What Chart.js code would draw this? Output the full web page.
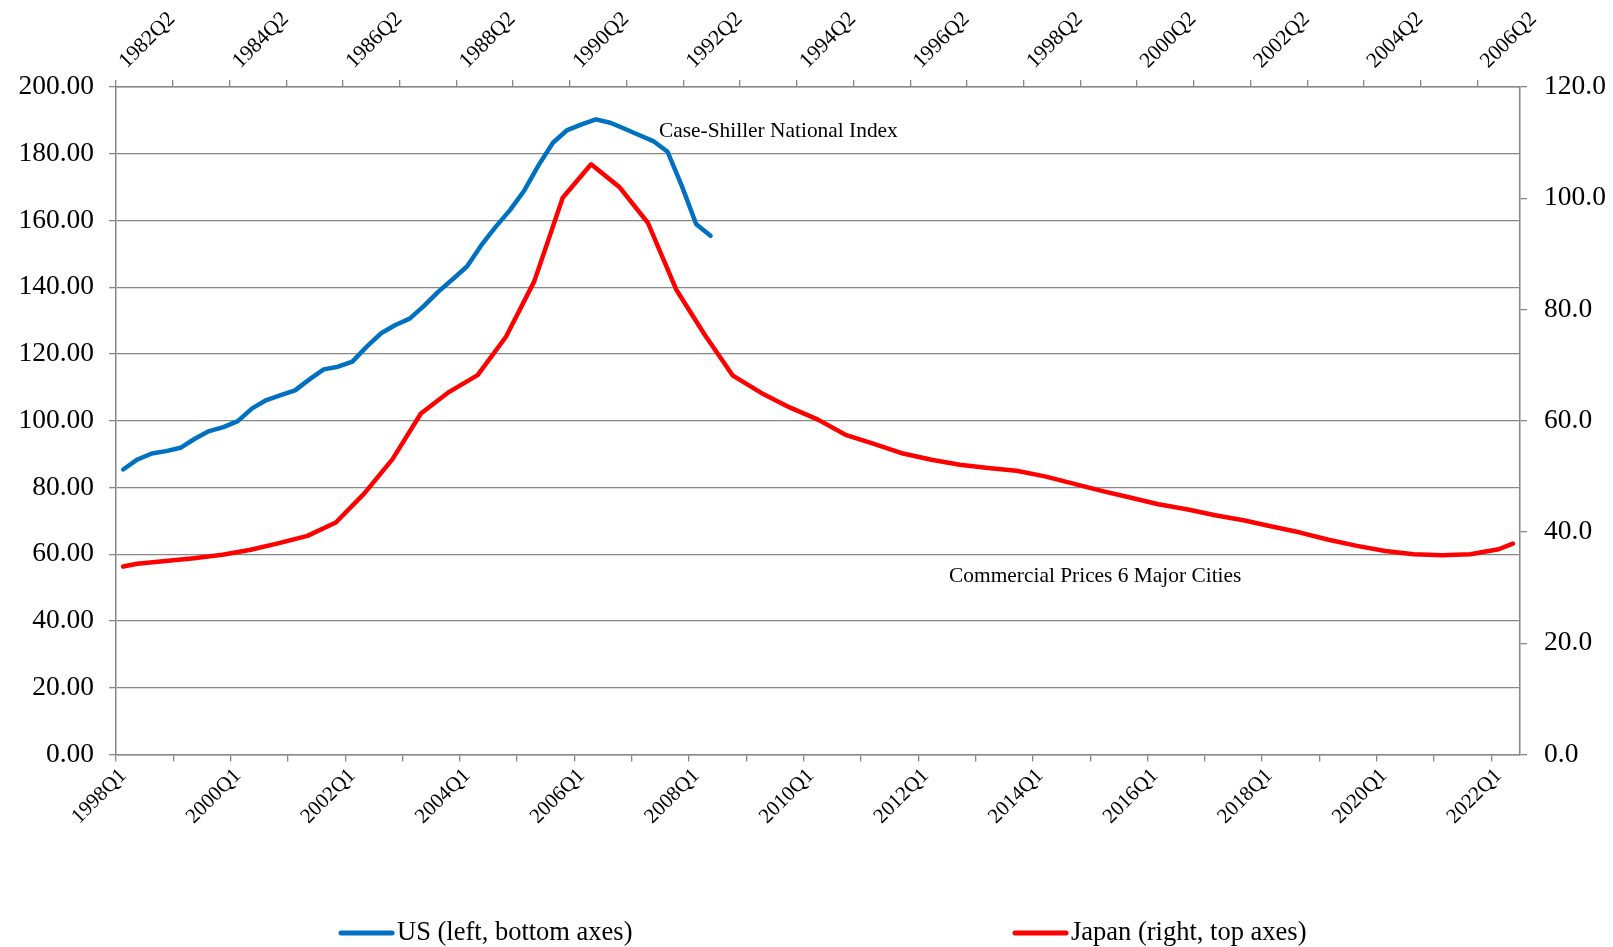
<!DOCTYPE html>
<html>
<head>
<meta charset="utf-8">
<title>US vs Japan property prices</title>
<script src="https://cdn.jsdelivr.net/npm/chart.js@4.4.0/dist/chart.umd.min.js"></script>
<style>
  html, body { margin: 0; padding: 0; background: #ffffff; }
  canvas { display: block; }
</style>
</head>
<body>
<canvas id="chart" width="1613" height="947"></canvas>
<script>
// Builds consecutive quarter labels such as 1998Q1, 1998Q2, ...
function quarterRange(first, count) {
  let year = +first.slice(0, 4);
  let q = +first.slice(5);
  const out = [];
  for (let k = 0; k < count; k++) {
    out.push(year + 'Q' + q);
    if (++q > 4) { q = 1; year++; }
  }
  return out;
}

// Bottom axis (US) and top axis (Japan) categories
const usQuarters = quarterRange('1998Q1', 98);
const jpQuarters = quarterRange('1982Q2', 99);

// Case-Shiller National Index, quarterly from 1998Q1
const usValues = [
  85.4, 88.4, 90.2, 90.9, 91.9, 94.6, 96.9, 98.1, 99.9, 103.7,
  106.2, 107.7, 109.1, 112.4, 115.4, 116.2, 117.7, 122.2, 126.2, 128.7,
  130.6, 134.4, 138.7, 142.4, 146.2, 152.6, 158.1, 163.1, 169.0, 176.6,
  183.3, 187.1, 188.8, 190.3, 189.3, 187.5, 185.6, 183.8, 180.6, 170.3,
  158.9, 155.4
];

// Japan commercial land prices, 6 major cities (semi-annual observations)
const jpDates = [
  '1982Q2', '1982Q3', '1983Q1', '1983Q3', '1984Q1', '1984Q3', '1985Q1', '1985Q3',
  '1986Q1', '1986Q3', '1987Q1', '1987Q3', '1988Q1', '1988Q3', '1989Q1', '1989Q3',
  '1990Q1', '1990Q3', '1991Q1', '1991Q3', '1992Q1', '1992Q3', '1993Q1', '1993Q3',
  '1994Q1', '1994Q3', '1995Q1', '1995Q3', '1996Q1', '1996Q3', '1997Q1', '1997Q3',
  '1998Q1', '1998Q3', '1999Q1', '1999Q3', '2000Q1', '2000Q3', '2001Q1', '2001Q3',
  '2002Q1', '2002Q3', '2003Q1', '2003Q3', '2004Q1', '2004Q3', '2005Q1', '2005Q3',
  '2006Q1', '2006Q3', '2006Q4'
];
const jpValues = [
  33.8, 34.3, 34.8, 35.3, 35.9, 36.8, 38.0, 39.3,
  41.7, 46.9, 53.1, 61.3, 65.2, 68.2, 75.1, 85.1,
  100.1, 106.1, 102.0, 95.6, 83.6, 75.5, 68.1, 65.0,
  62.4, 60.2, 57.4, 55.8, 54.1, 53.0, 52.1, 51.5,
  51.0, 50.0, 48.7, 47.4, 46.2, 45.0, 44.1, 43.0,
  42.1, 41.0, 39.9, 38.6, 37.5, 36.6, 36.0, 35.8,
  36.0, 36.9, 37.9
];

// Value axes
const leftAxis = { min: 0, max: 200, step: 20 };
const rightAxis = { min: 0, max: 120, step: 20 };

// Series names
const usLabel = 'US (left, bottom axes)';
const jpLabel = 'Japan (right, top axes)';
const usNote = 'Case-Shiller National Index';
const jpNote = 'Commercial Prices 6 Major Cities';

const FONT = '"Liberation Serif", "Times New Roman", serif';
const AXIS_GREY = '#878787';
const BLUE = '#0070C0';
const RED = '#FF0000';

// Plot frame edges in canvas pixels
const FRAME = { left: 116, right: 1520, top: 87, bottom: 754.5 };
const W = 1613, H = 947;

const everyFourth = (ctx) => (ctx.index % 4 === 0 ? AXIS_GREY : 'rgba(0,0,0,0)');

// Annotations and legend drawn on top of the plot
const textPlugin = {
  id: 'chartText',
  afterDraw(chart) {
    const { ctx, scales } = chart;
    ctx.save();
    ctx.fillStyle = '#000';
    ctx.textAlign = 'left';
    ctx.textBaseline = 'middle';
    ctx.font = '21.4px ' + FONT;
    ctx.fillText(usNote, scales.x.getPixelForValue(37.4), scales.y.getPixelForValue(186.6));
    ctx.fillText(jpNote, scales.x.getPixelForValue(57.65), scales.y.getPixelForValue(53.5));

    // legend
    const items = [
      { ds: chart.data.datasets[0], x: 339 },
      { ds: chart.data.datasets[1], x: 1013 }
    ];
    const ly = 933;
    ctx.font = '26.5px ' + FONT;
    items.forEach(({ ds, x }) => {
      ctx.strokeStyle = ds.borderColor;
      ctx.lineWidth = 5;
      ctx.lineCap = 'round';
      ctx.beginPath();
      ctx.moveTo(x + 2, ly);
      ctx.lineTo(x + 53, ly);
      ctx.stroke();
      ctx.fillText(ds.label, x + 58, ly);
    });
    ctx.restore();
  }
};

new Chart(document.getElementById('chart'), {
  type: 'line',
  data: {
    datasets: [
      {
        label: usLabel,
        data: usValues,
        xAxisID: 'x',
        yAxisID: 'y',
        borderColor: BLUE,
        backgroundColor: BLUE,
        borderWidth: 4.5,
        pointRadius: 0,
        tension: 0,
        borderCapStyle: 'round',
        borderJoinStyle: 'round'
      },
      {
        label: jpLabel,
        data: jpDates.map((d, i) => ({ x: d, y: jpValues[i] })),
        xAxisID: 'x2',
        yAxisID: 'y2',
        borderColor: RED,
        backgroundColor: RED,
        borderWidth: 4.5,
        pointRadius: 0,
        tension: 0,
        borderCapStyle: 'round',
        borderJoinStyle: 'round'
      }
    ]
  },
  options: {
    responsive: false,
    animation: false,
    layout: { padding: 0 },
    plugins: {
      legend: { display: false },
      tooltip: { enabled: false }
    },
    scales: {
      x: {
        type: 'category',
        position: 'bottom',
        labels: usQuarters,
        offset: true,
        grid: {
          offset: true,
          drawOnChartArea: false,
          color: everyFourth,
          tickColor: everyFourth,
          lineWidth: 1.3,
          tickLength: 7
        },
        border: { display: true, color: AXIS_GREY, width: 1.5 },
        ticks: {
          autoSkip: false,
          minRotation: 45,
          maxRotation: 45,
          padding: 2,
          color: '#000',
          font: { family: FONT, size: 21 },
          callback: (v, i) => (i % 8 === 0 ? usQuarters[i] : '')
        },
        afterFit: (s) => { s.height = H - FRAME.bottom; }
      },
      x2: {
        type: 'category',
        position: 'top',
        labels: jpQuarters,
        offset: true,
        grid: {
          offset: true,
          drawOnChartArea: false,
          color: everyFourth,
          tickColor: everyFourth,
          lineWidth: 1.3,
          tickLength: 7
        },
        border: { display: true, color: AXIS_GREY, width: 1.5 },
        ticks: {
          autoSkip: false,
          minRotation: 45,
          maxRotation: 45,
          padding: 6,
          labelOffset: 18,
          color: '#000',
          font: { family: FONT, size: 21.5 },
          callback: (v, i) => (i % 8 === 0 ? jpQuarters[i] : '')
        },
        afterFit: (s) => { s.height = FRAME.top; }
      },
      y: {
        type: 'linear',
        position: 'left',
        min: leftAxis.min,
        max: leftAxis.max,
        grid: {
          color: AXIS_GREY,
          lineWidth: 1.3,
          tickLength: 7
        },
        border: { display: true, color: AXIS_GREY, width: 1.5 },
        ticks: {
          stepSize: leftAxis.step,
          padding: 15,
          color: '#000',
          font: { family: FONT, size: 27.5 },
          callback: (v) => Number(v).toFixed(2)
        },
        afterFit: (s) => { s.width = FRAME.left; }
      },
      y2: {
        type: 'linear',
        position: 'right',
        min: rightAxis.min,
        max: rightAxis.max,
        grid: {
          drawOnChartArea: false,
          color: AXIS_GREY,
          lineWidth: 1.3,
          tickLength: 7
        },
        border: { display: true, color: AXIS_GREY, width: 1.5 },
        ticks: {
          stepSize: rightAxis.step,
          padding: 17,
          color: '#000',
          font: { family: FONT, size: 27.5 },
          callback: (v) => Number(v).toFixed(1)
        },
        afterFit: (s) => { s.width = W - FRAME.right; }
      }
    }
  },
  plugins: [textPlugin]
});
</script>
</body>
</html>
